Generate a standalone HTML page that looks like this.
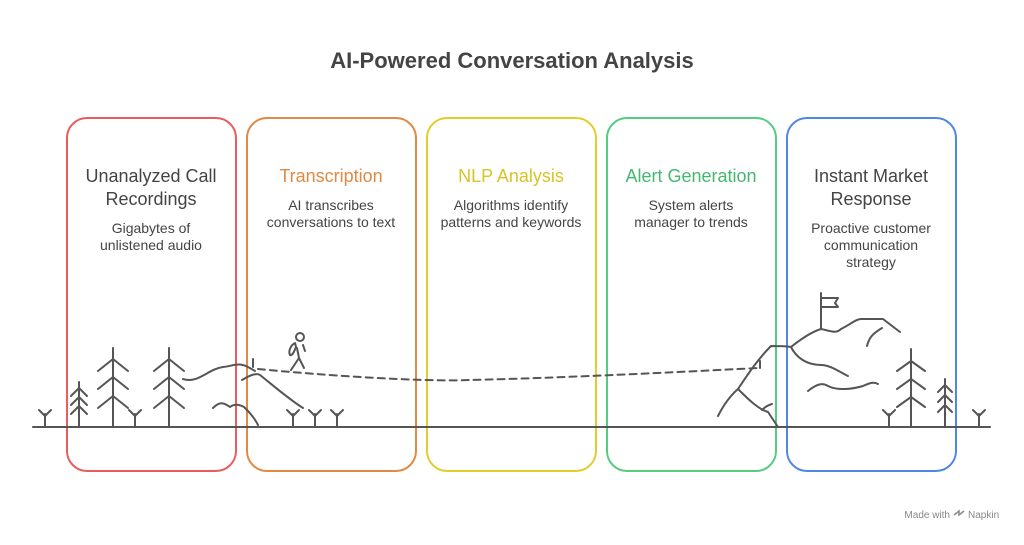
<!DOCTYPE html>
<html><head><style>
body{margin:0;background:#fff;width:1024px;height:540px;overflow:hidden;font-family:"Liberation Sans",sans-serif;}
</style></head><body>
<svg width="1024" height="540" viewBox="0 0 1024 540" xmlns="http://www.w3.org/2000/svg" font-family="Liberation Sans, sans-serif">
<text x="512" y="68" text-anchor="middle" font-size="22" font-weight="bold" fill="#444">AI-Powered Conversation Analysis</text>
<g fill="none" stroke-width="2">
<rect x="67" y="118" width="169" height="353" rx="20" stroke="#e85d5d"/>
<rect x="247" y="118" width="169" height="353" rx="20" stroke="#e08a45"/>
<rect x="427" y="118" width="169" height="353" rx="20" stroke="#e3cd2e"/>
<rect x="607" y="118" width="169" height="353" rx="20" stroke="#55cc80"/>
<rect x="787" y="118" width="169" height="353" rx="20" stroke="#4f88e3"/>
</g>
<g font-size="18" text-anchor="middle">
<text x="151" y="182" fill="#444">Unanalyzed Call</text>
<text x="151" y="205" fill="#444">Recordings</text>
<text x="331" y="182" fill="#e08a45">Transcription</text>
<text x="511" y="182" fill="#d9c326">NLP Analysis</text>
<text x="691" y="182" fill="#45b870">Alert Generation</text>
<text x="871" y="182" fill="#444">Instant Market</text>
<text x="871" y="205" fill="#444">Response</text>
</g>
<g font-size="14" text-anchor="middle" fill="#444">
<text x="151" y="233">Gigabytes of</text>
<text x="151" y="250">unlistened audio</text>
<text x="331" y="210">AI transcribes</text>
<text x="331" y="227">conversations to text</text>
<text x="511" y="210">Algorithms identify</text>
<text x="511" y="227">patterns and keywords</text>
<text x="691" y="210">System alerts</text>
<text x="691" y="227">manager to trends</text>
<text x="871" y="233">Proactive customer</text>
<text x="871" y="250">communication</text>
<text x="871" y="267">strategy</text>
</g>
<g fill="none" stroke="#555" stroke-width="2" stroke-linecap="round" stroke-linejoin="round">
<line x1="33" y1="427" x2="990" y2="427"/>
<path d="M45 427V414M39 410l6 6 6-6"/>
<path d="M135 427V414M129 410l6 6 6-6"/>
<path d="M293 427V414M287 410l6 6 6-6"/>
<path d="M315 427V414M309 410l6 6 6-6"/>
<path d="M337 427V414M331 410l6 6 6-6"/>
<path d="M889 427V414M883 410l6 6 6-6"/>
<path d="M979 427V414M973 410l6 6 6-6"/>
<path d="M79 427V382M71 396l8-8 8 8M71 405l8-8 8 8M71 414l8-8 8 8"/>
<path d="M113 427V348M98 371l15-12 15 12M98 389l15-12 15 12M98 408l15-12 15 12"/>
<path d="M169 427V348M154 371l15-12 15 12M154 389l15-12 15 12M154 408l15-12 15 12"/>
<path d="M183 379c15 5 25-10 40-12c10-1 15-5 25 0l7 4"/>
<path d="M242 380c10-6 15-7 18-5c15 12 30 25 43 33"/>
<path d="M213 408c8-8 12-4 17-1c5-4 10-2 14 0c5 5 10 10 14 18"/>
<path d="M253 367v-8"/>
<circle cx="300" cy="337" r="4"/>
<path d="M295 343c-4 2-7 8-5 12c3 1 5-6 6-8z"/>
<path d="M297 348l2 10l-8 12M299 358l5 10M303 345l2 6"/>
<path d="M258 369 C320 375 420 382 470 380 C560 378 680 372 758 368" stroke-dasharray="7 5"/>
<path d="M718 416c5-10 12-20 20-27c10 10 20 20 30 23l10 15"/>
<path d="M738 389c10-15 20-30 33-43c5 0 15 0 20 1c5 10 15 18 30 18c10 0 20 8 27 11"/>
<path d="M762 410c3-3 6-5 10-6"/>
<path d="M791 347c10-8 20-15 30-18c10 2 15 5 20 0c10-5 15-10 20-10c5 0 20 0 22 0l17 13"/>
<path d="M867 346c2-8 5-12 15-18"/>
<path d="M808 391c10-8 15-8 20-5c10 5 25 3 35 0c5-2 10-5 15-2"/>
<path d="M821 329V293M821 298h17l-3 5 3 4h-17"/>
<path d="M760 368v-7"/>
<path d="M911 427V349M897 371l14-10 14 10M897 389l14-10 14 10M897 407l14-10 14 10"/>
<path d="M945 427V379M938 392l7-7 7 7M938 402l7-7 7 7M938 412l7-7 7 7"/>
</g>
<text x="950" y="518" font-size="10" fill="#888" text-anchor="end">Made with</text>
<text x="968" y="518" font-size="10" fill="#888">Napkin</text>
<path d="M954 515l5-4v4l5-4" stroke="#888" fill="none" stroke-width="1.5"/>
</svg>
</body></html>
